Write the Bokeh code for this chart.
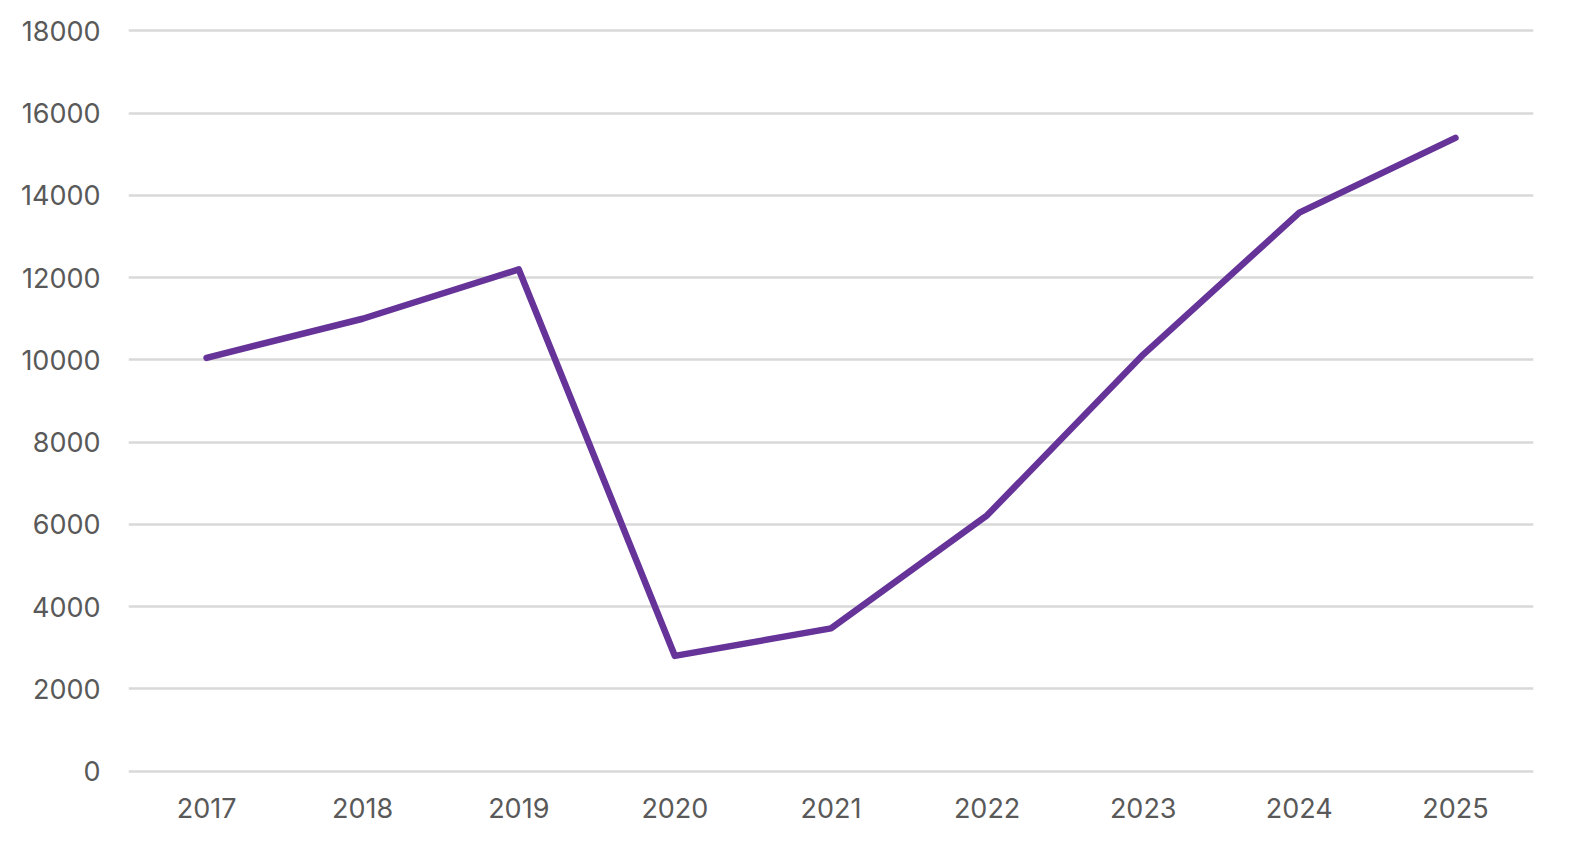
from bokeh.plotting import figure
from bokeh.models import FactorRange, Range1d, FixedTicker
from bokeh.embed import file_html
from bokeh.resources import INLINE

# data
years = ["2017", "2018", "2019", "2020", "2021", "2022", "2023", "2024", "2025"]
values = [10050, 11000, 12200, 2800, 3470, 6220, 10130, 13580, 15400]
y_ticks = [0, 2000, 4000, 6000, 8000, 10000, 12000, 14000, 16000, 18000]

p = figure(
    x_range=FactorRange(factors=years, range_padding=0),
    y_range=Range1d(-60, 18060),
    width=1562, height=840,
    output_backend="svg", toolbar_location=None,
    min_border_left=128, min_border_right=29,
    min_border_top=28, min_border_bottom=67,
)
p.outline_line_color = None

p.line(years, values, line_color="#663399", line_width=6.5,
       line_cap="round", line_join="round")

# axes
for ax in (p.xaxis, p.yaxis):
    ax.axis_line_color = None
    ax.major_tick_line_color = None
    ax.minor_tick_line_color = None
    ax.major_tick_out = 0
    ax.major_label_text_font = "Inter"
    ax.major_label_text_font_size = "27px"
    ax.major_label_text_color = "#595959"

p.yaxis.ticker = FixedTicker(ticks=y_ticks)
p.yaxis.major_label_standoff = 28
p.xaxis.major_label_standoff = 24

p.xgrid.grid_line_color = None
p.ygrid.grid_line_color = "#d9d9d9"
p.ygrid.grid_line_width = 2.5

open("out.html", "w").write(file_html(p, INLINE))
